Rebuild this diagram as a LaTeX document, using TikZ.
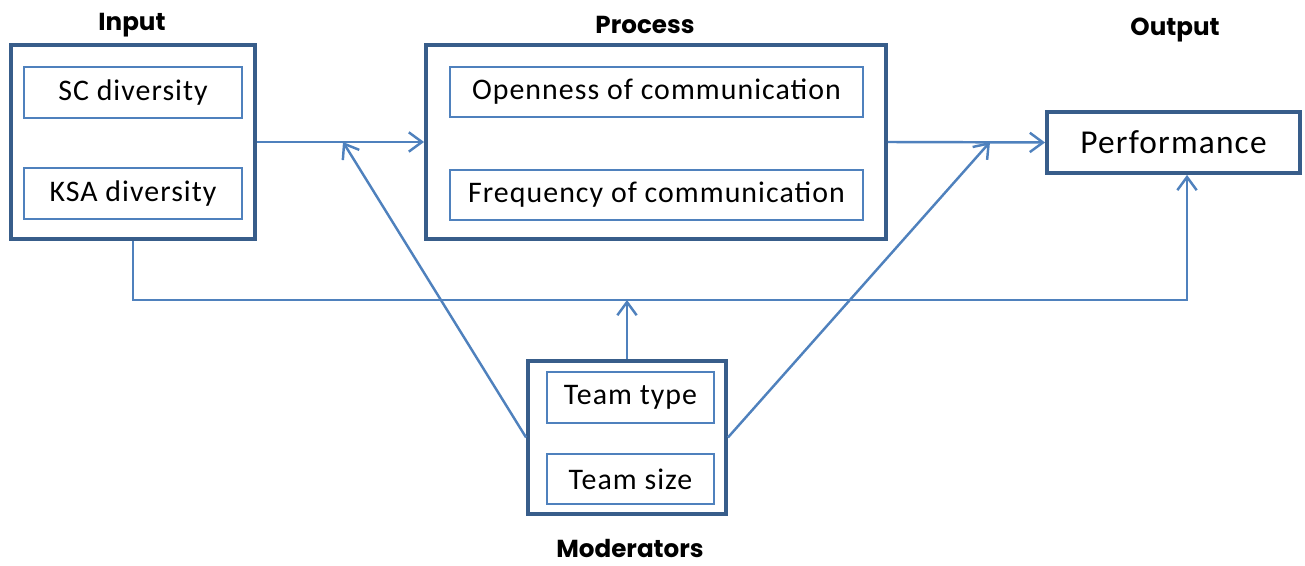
\documentclass[tikz,border=0pt]{standalone}
\usepackage{fontspec}
\setmainfont{Carlito}[LetterSpace=3.5]
\newfontfamily\headfont{Poppins}
\usetikzlibrary{arrows.meta}
\definecolor{frameblue}{RGB}{56,93,138}
\definecolor{lineblue}{RGB}{79,129,189}

\begin{document}
\begin{tikzpicture}[
    outer/.style={draw=frameblue, line width=2.2pt, inner sep=0pt},
    inner/.style={draw=lineblue, line width=0.6pt, inner sep=0pt, font=\fontsize{17}{20}\selectfont},
    link/.style={draw=lineblue, line width=1.4pt, -{Straight Barb[length=7.5pt,width=11pt]}},
    heading/.style={font=\headfont\bfseries\fontsize{14}{16}\selectfont, inner sep=1pt}]
\useasboundingbox (0,0) rectangle (26.1,11.32);

% Blocks: input, process, output, moderators.
\node[outer, minimum width=4.88cm, minimum height=3.88cm] (IN) at (2.66,8.48) {};
\node[inner, minimum width=4.36cm, minimum height=1.02cm] (SC) at (2.66,9.47) {SC diversity};
\node[inner, minimum width=4.36cm, minimum height=1.02cm] (KSA) at (2.66,7.45) {KSA diversity};

\node[outer, minimum width=9.2cm, minimum height=3.88cm] (PROC) at (13.12,8.48) {};
\node[inner, minimum width=8.26cm, minimum height=1.0cm] (OPEN) at (13.13,9.48) {Openness of communication};
\node[inner, minimum width=8.26cm, minimum height=1.0cm] (FREQ) at (13.13,7.42) {Frequency of communication};

\node[outer, minimum width=5.06cm, minimum height=1.22cm, font=\fontsize{19}{22}\selectfont] (PERF) at (23.47,8.47) {Performance};

\node[outer, minimum width=3.96cm, minimum height=3.06cm] (MOD) at (12.54,2.57) {};
\node[inner, minimum width=3.34cm, minimum height=1.02cm] (TTYPE) at (12.61,3.37) {Team type};
\node[inner, minimum width=3.34cm, minimum height=1.0cm] (TSIZE) at (12.61,1.74) {Team size};

\node[heading] (INPUT) at (2.64,10.82) {Input};
\node[heading] (PROCESS) at (12.9,10.82) {Process};
\node[heading] (OUTPUT) at (23.5,10.72) {Output};
\node[heading] (MODERATORS) at (12.6,0.36) {Moderators};

% Moderating links land on the main arrows and on the bottom line.
\coordinate (JOIN1) at (6.86,8.48);
\coordinate (JOIN2) at (19.8,8.48);
\coordinate (BUS) at (12.56,5.32);

\draw[link] (IN.east) -- (PROC.west);
\draw[link] (PROC.east) -- (PERF.west);
\draw[link] (IN.south) |- (BUS) -| ([xshift=0.27cm]PERF.south);
\draw[link] (MOD.north) -- (MOD.north |- BUS);
\draw[link] (MOD.west) -- (JOIN1);
\draw[link] (MOD.east) -- (JOIN2);
\end{tikzpicture}
\end{document}
